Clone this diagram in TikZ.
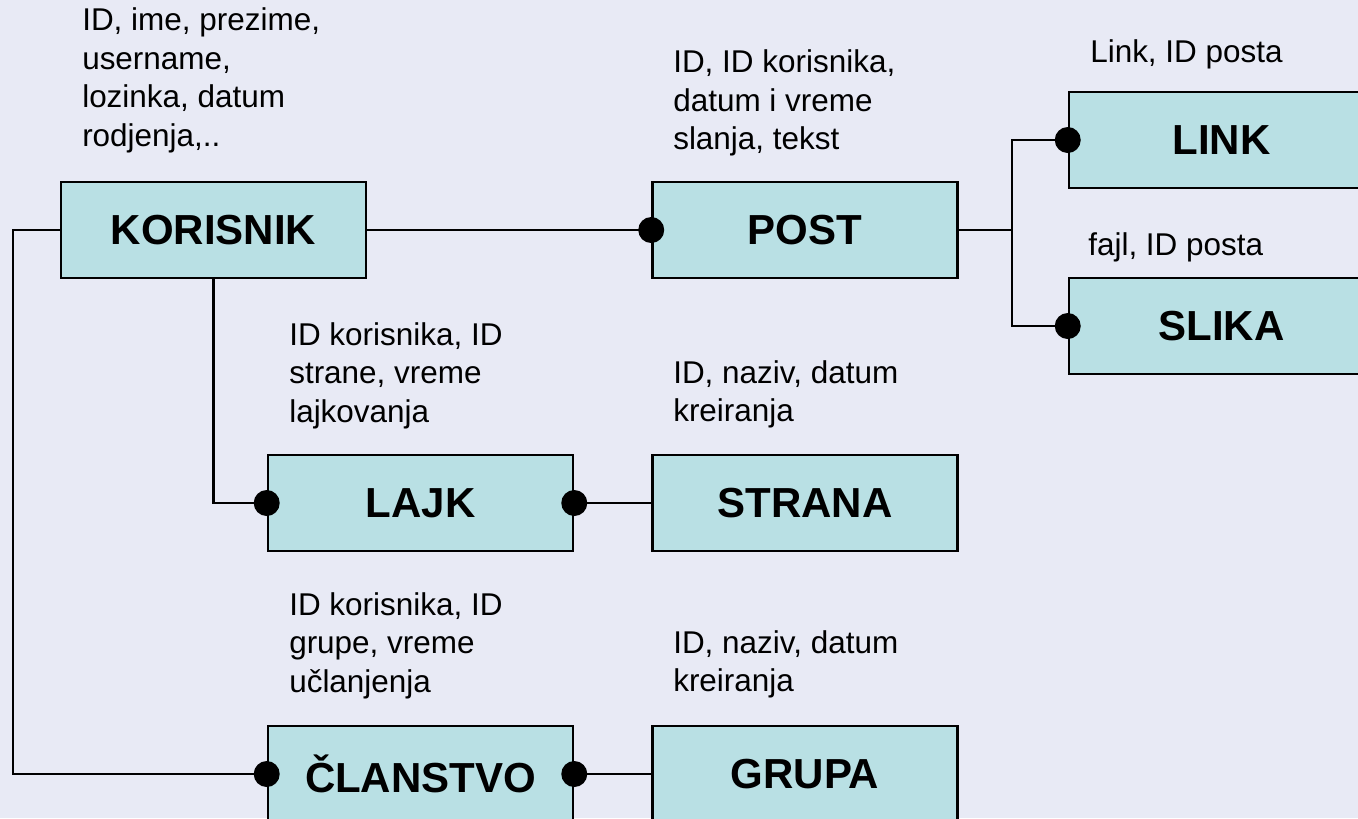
\documentclass[tikz,border=0pt]{standalone}
\usepackage{fontspec}
\setmainfont{Liberation Sans}
\definecolor{bgcol}{RGB}{232,234,245}
\definecolor{boxfill}{RGB}{185,224,228}
\begin{document}
\begin{tikzpicture}[x=0.75pt,y=-0.75pt,
  ent/.style={draw=black,line width=1.9pt,fill=boxfill,minimum width=228.75pt,minimum height=72pt,inner sep=0pt,font=\fontsize{31.5pt}{36pt}\selectfont\bfseries},
  attr/.style={anchor=base west,inner sep=0pt,font=\fontsize{23.6pt}{28.9pt}\selectfont},
  conn/.style={line width=1.6pt},
  dot/.style={fill=black}]
\useasboundingbox (0,0) rectangle (1358,818);
\clip (0,0) rectangle (1358,818);
\fill[bgcol] (0,0) rectangle (1358,818);

% entities
\node[ent] (kor)    at (213.5,230) {KORISNIK};
\node[ent] (post)   at (805,230)   {POST};
\node[ent] (link)   at (1221.5,140) {LINK};
\node[ent] (slika)  at (1221.5,326) {SLIKA};
\node[ent] (lajk)   at (420.5,503) {LAJK};
\node[ent] (strana) at (805,503)   {STRANA};
\node[ent] (clan)   at (420.5,774) {ČLANSTVO};
\node[ent] (grupa)  at (805,774)   {GRUPA};

% attributes
\node[attr] (akor) at (82,30.5) {\parbox[t]{300pt}{ID, ime, prezime,\\username,\\lozinka, datum\\rodjenja,..}};
\node[attr] (apost) at (673,72.5) {\parbox[t]{300pt}{ID, ID korisnika,\\datum i vreme\\slanja, tekst}};
\node[attr] (alink) at (1090,62.5) {Link, ID posta};
\node[attr] (aslika) at (1088,255) {fajl, ID posta};
\node[attr] (alajk) at (289,345) {\parbox[t]{300pt}{ID korisnika, ID\\strane, vreme\\lajkovanja}};
\node[attr] (astrana) at (673,383) {\parbox[t]{300pt}{ID, naziv, datum\\kreiranja}};
\node[attr] (aclan) at (289,615) {\parbox[t]{300pt}{ID korisnika, ID\\grupe, vreme\\učlanjenja}};
\node[attr] (agrupa) at (673,653) {\parbox[t]{300pt}{ID, naziv, datum\\kreiranja}};

% connectors
\coordinate (br) at (1012,230);
\coordinate (lft) at (13,230);
\draw[conn] (kor.east) -- (post.west);
\draw[conn] (post.east) -- (br);
\draw[conn] (link.west) -| (br) |- (slika.west);
\draw[conn] (kor.west) -- (lft) |- (clan.west);
\draw[conn] (kor.south) |- (lajk.west);
\draw[conn] (lajk.east) -- (strana.west);
\draw[conn] (clan.east) -- (grupa.west);

% circle ends
\foreach \p in {post.west,link.west,slika.west,lajk.west,lajk.east,clan.west,clan.east}
  \fill[dot] (\p) circle[radius=9.75pt];
\end{tikzpicture}
\end{document}
